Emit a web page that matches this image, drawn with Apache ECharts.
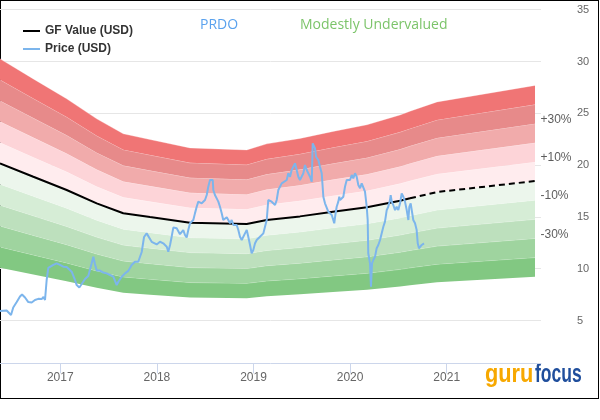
<!DOCTYPE html>
<html><head><meta charset="utf-8">
<script src="https://cdn.jsdelivr.net/npm/echarts@6/dist/echarts.min.js"></script>
<style>
html,body{margin:0;padding:0;background:#fff;}
#frame{position:absolute;left:0;top:0;width:599px;height:399px;box-sizing:border-box;border:1px solid #000;}
#chart{position:absolute;left:0;top:0;width:600px;height:420px;}
</style></head><body>
<div id="frame"></div>
<div id="chart"></div>
<script>
const ticker = 'PRDO';
const verdict = 'Modestly Undervalued';
const yearTicks = [2017, 2018, 2019, 2020, 2021];
const axisStartYear = 2016.376;
const axisEndYear = 2021.976;

// dates as decimal years
const priceYears = [
2016.376,2016.410,2016.445,2016.462,2016.490,2016.513,2016.549,2016.583,2016.604,2016.635,
2016.669,2016.704,2016.738,2016.772,2016.807,2016.826,2016.842,2016.849,2016.859,2016.876,
2016.893,2016.928,2016.963,2016.997,2017.031,2017.066,2017.083,2017.118,2017.152,2017.170,
2017.197,2017.222,2017.256,2017.290,2017.325,2017.342,2017.359,2017.377,2017.411,2017.445,
2017.480,2017.515,2017.549,2017.584,2017.601,2017.636,2017.670,2017.704,2017.739,2017.773,
2017.807,2017.825,2017.843,2017.867,2017.894,2017.911,2017.946,2017.963,2017.998,2018.032,
2018.066,2018.102,2018.118,2018.136,2018.153,2018.170,2018.205,2018.239,2018.273,2018.291,
2018.308,2018.325,2018.343,2018.377,2018.394,2018.412,2018.429,2018.446,2018.464,2018.480,
2018.498,2018.516,2018.532,2018.550,2018.567,2018.578,2018.584,2018.601,2018.619,2018.636,
2018.653,2018.671,2018.687,2018.705,2018.723,2018.739,2018.757,2018.774,2018.791,2018.808,
2018.826,2018.843,2018.860,2018.878,2018.894,2018.912,2018.930,2018.946,2018.964,2018.981,
2018.998,2019.016,2019.033,2019.050,2019.067,2019.102,2019.119,2019.137,2019.153,2019.171,
2019.188,2019.205,2019.223,2019.240,2019.257,2019.274,2019.292,2019.309,2019.344,2019.360,
2019.378,2019.395,2019.412,2019.430,2019.447,2019.464,2019.481,2019.516,2019.533,2019.551,
2019.567,2019.585,2019.603,2019.613,2019.626,2019.637,2019.647,2019.671,2019.688,2019.706,
2019.723,2019.740,2019.758,2019.774,2019.792,2019.810,2019.826,2019.836,2019.847,2019.861,
2019.878,2019.888,2019.896,2019.913,2019.930,2019.947,2019.965,2019.981,2019.999,2020.017,
2020.033,2020.051,2020.068,2020.085,2020.103,2020.120,2020.137,2020.154,2020.172,2020.182,
2020.188,2020.206,2020.216,2020.227,2020.240,2020.258,2020.275,2020.292,2020.310,2020.327,
2020.344,2020.361,2020.379,2020.395,2020.413,2020.420,2020.431,2020.447,2020.465,2020.482,
2020.499,2020.517,2020.534,2020.551,2020.568,2020.586,2020.603,2020.613,2020.627,2020.638,
2020.654,2020.672,2020.689,2020.700,2020.713,2020.724,2020.741,2020.765
];
const priceValues = [
5.91,5.94,5.96,5.84,5.53,6.25,6.78,7.31,7.51,7.22,
6.78,6.74,6.98,7.09,7.07,7.27,6.98,6.81,8.91,10.07,
10.21,10.36,10.52,10.36,10.19,10.16,10.04,9.71,8.91,8.42,
8.18,8.52,9.00,9.29,10.52,11.16,10.45,9.82,9.82,9.63,
9.55,9.39,9.24,8.42,8.74,9.22,9.55,9.79,10.36,10.67,
10.67,10.60,11.61,13.06,13.41,13.41,12.60,12.45,12.34,12.60,
12.45,12.12,11.64,12.29,13.09,13.97,13.90,13.33,13.73,13.25,
13.01,13.73,14.38,14.70,15.34,15.98,16.47,16.63,16.31,16.47,
16.63,17.11,17.91,18.56,18.72,18.56,17.60,17.11,16.79,16.47,
15.98,15.35,14.70,14.86,14.96,14.70,14.38,14.70,14.22,14.05,
14.22,13.73,13.09,12.77,12.93,13.41,13.73,13.09,12.29,11.49,
11.80,12.45,12.77,12.93,13.09,13.41,14.05,14.70,16.63,16.79,
16.47,16.31,16.15,16.63,17.60,17.76,18.24,18.40,18.56,19.21,
18.88,19.53,19.36,20.17,19.53,18.88,18.56,19.21,20.01,19.53,
19.36,18.88,18.40,22.10,22.26,21.62,20.81,20.49,19.84,19.21,
16.95,16.31,16.15,15.50,15.35,15.18,14.70,14.38,15.18,15.98,
16.47,16.95,16.63,16.47,16.95,17.91,18.56,18.72,18.56,19.04,
18.72,19.21,18.88,18.08,17.76,18.24,18.08,17.43,15.98,14.70,
11.49,10.52,8.26,10.52,10.84,11.16,11.97,12.29,12.77,12.93,
14.05,14.54,15.66,15.98,16.63,17.11,16.47,16.15,15.66,15.98,
15.66,16.31,17.27,16.95,16.47,15.66,14.70,15.98,16.31,15.66,
14.70,14.38,13.73,12.45,11.97,12.12,12.29,12.45
];

const gfYears = [2016.376,2016.721,2017.066,2017.377,2017.652,2017.929,2018.343,2018.930,2019.137,2019.481,2019.823,2020.175,2020.517,2020.620,2020.900,2021.914];
const gfValues = [20.17,18.88,17.60,16.31,15.35,14.98,14.44,14.31,14.70,15.05,15.50,15.93,16.56,16.80,17.40,18.46];
const gfForecastStart = 2020.620;

const bandBase = 0.5;       // lowest band edge = GF x 0.5
const bandStep = 0.1;       // each band is 10% of GF
const bandColors = ['#82c882','#9fd49f','#bde0bd','#d6edd6','#ecf6ec','#ffecee','#fdd4d8','#f1abab','#e78a8a','#f07575'];
const bandLabelFactors = [1.3, 1.1, 0.9, 0.7];
const bandLabelTexts = ['+30%', '+10%', '-10%', '-30%'];

const chart = echarts.init(document.getElementById('chart'), null, {renderer: 'canvas'});

const series = [];
// valuation bands: polygons between GF x (base + k*step) and GF x (base + (k+1)*step)
series.push({
  type: 'custom', silent: true, z: 1, clip: false,
  data: bandColors.map((c, k) => [k]),
  encode: {x: -1, y: -1},
  renderItem: function (params, api) {
    const k = params.dataIndex;
    const lo = bandBase + bandStep * k, hi = lo + bandStep;
    const upper = gfYears.map((y, i) => api.coord([y, gfValues[i] * hi]));
    const lower = gfYears.map((y, i) => api.coord([y, gfValues[i] * lo])).reverse();
    return {
      type: 'group',
      children: [
        {type: 'polygon', shape: {points: upper.concat(lower)}, style: {fill: bandColors[k], stroke: null}},
        {type: 'polyline', shape: {points: upper}, style: {stroke: 'rgba(255,255,255,0.3)', lineWidth: 1, fill: null}}
      ]
    };
  }
});
const splitIdx = gfYears.indexOf(gfForecastStart);
series.push({
  name: 'GF Value (USD)', type: 'line', symbol: 'none', z: 3, color: '#000',
  lineStyle: {width: 2, color: '#000'},
  data: gfYears.slice(0, splitIdx + 1).map((y, i) => [y, gfValues[i]])
});
series.push({
  name: 'GF Value forecast', type: 'line', symbol: 'none', z: 3, color: '#000',
  lineStyle: {width: 2, color: '#000', type: [6, 4]},
  data: gfYears.slice(splitIdx).map((y, i) => [y, gfValues[splitIdx + i]])
});
series.push({
  name: 'Price (USD)', type: 'line', symbol: 'none', z: 4, color: '#7cb5ec',
  lineStyle: {width: 2, color: '#7cb5ec'},
  data: priceYears.map((y, i) => [y, priceValues[i]])
});
const lastYear = gfYears[gfYears.length - 1];
const lastGF = gfValues[gfValues.length - 1];
series.push({
  type: 'scatter', silent: true, symbolSize: 1, z: 5,
  itemStyle: {color: 'rgba(0,0,0,0)'},
  label: {show: true, position: 'right', distance: 5, offset: [0, -4],
          color: '#333', fontSize: 12, fontFamily: 'Liberation Sans'},
  data: bandLabelFactors.map((f, i) => ({value: [lastYear, lastGF * f], label: {formatter: bandLabelTexts[i]}}))
});

const gridColors = ['rgba(0,0,0,0)', '#e6e6e6', '#e6e6e6', '#e6e6e6', '#e6e6e6', '#e6e6e6', '#e6e6e6', '#e6e6e6'];

chart.setOption({
  animation: false,
  grid: {left: 0, right: 59, top: 9.7, bottom: 47.7, containLabel: false},
  legend: {
    data: ['GF Value (USD)', 'Price (USD)'], orient: 'vertical', left: 23, top: 25, padding: 0,
    itemWidth: 17, itemHeight: 2, icon: 'rect', itemGap: 6, selectedMode: false,
    textStyle: {fontFamily: 'Liberation Sans', fontWeight: 'bold', fontSize: 12, color: '#333'}
  },
  xAxis: {
    type: 'value', min: axisStartYear, max: axisEndYear, offset: -9,
    axisLine: {show: true, lineStyle: {color: '#ccd6eb', width: 1}},
    axisTick: {show: true, length: 10, customValues: yearTicks, lineStyle: {color: '#ccd6eb'}},
    axisLabel: {customValues: yearTicks, formatter: v => String(Math.round(v)), color: '#666',
                fontSize: 12, fontFamily: 'Liberation Sans', margin: 8},
    splitLine: {show: false}
  },
  yAxis: {
    type: 'value', position: 'right', min: 0, max: 35, interval: 5,
    axisLine: {show: false}, axisTick: {show: false},
    axisLabel: {color: '#666', fontSize: 11, fontFamily: 'Liberation Sans', margin: 36,
                formatter: v => (v === 0 ? '' : String(v))},
    splitLine: {show: true, lineStyle: {color: gridColors, width: 1}}
  },
  graphic: [
    {type: 'text', x: 200, y: 25.5, style: {text: ticker, fill: '#5aa2ee', fontSize: 14, fontFamily: 'Open Sans', verticalAlign: 'middle'}},
    {type: 'text', x: 300, y: 25.5, style: {text: verdict, fill: '#7cc46a', fontSize: 14, fontFamily: 'Open Sans', verticalAlign: 'middle'}},
    {type: 'text', x: 485, y: 374.7, scaleX: 0.87, style: {text: 'guru', fill: '#f7a800', fontSize: 25, fontWeight: 'bold', fontFamily: 'Liberation Sans', verticalAlign: 'middle'}},
    {type: 'text', x: 535, y: 374.7, scaleX: 0.7, style: {text: 'focus', fill: '#1f4e9c', fontSize: 25, fontWeight: 'bold', fontFamily: 'Liberation Sans', verticalAlign: 'middle'}}
  ],
  series: series
});
</script>
</body></html>
